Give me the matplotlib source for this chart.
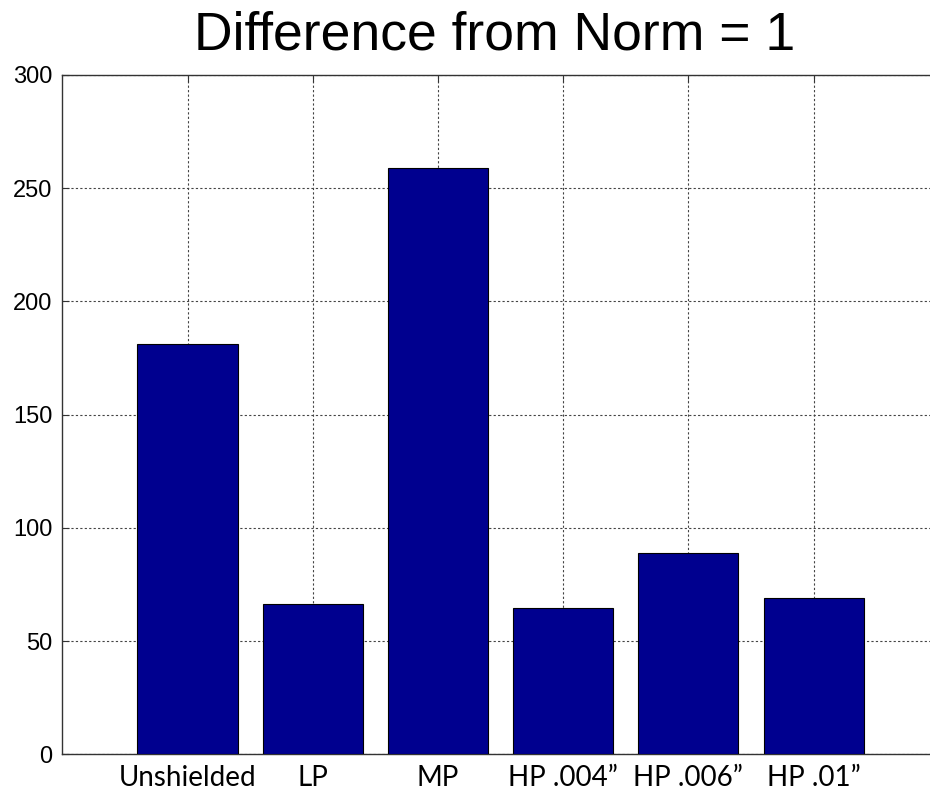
import numpy as np
import matplotlib.pyplot as plt

# values
categories = ['Unshielded', 'LP', 'MP', 'HP .004\u201d', 'HP .006\u201d', 'HP .01\u201d']
values = [181, 66.5, 259, 64.5, 89, 69]
y_ticks = [0, 50, 100, 150, 200, 250, 300]

fig = plt.figure(figsize=(9.3, 7.9), dpi=100)

# axes sticks out past the right edge, like the cropped original
ax = fig.add_axes([62.3 / 930, 1 - 754.3 / 790, 876.5 / 930, 679.5 / 790])

x = np.arange(1, len(categories) + 1)
ax.bar(x, values, width=0.8, color='#00008F', edgecolor='black', linewidth=0.8, zorder=3)

ax.set_xlim(0, 7)
ax.set_ylim(0, 300)
ax.set_xticks(x)
ax.set_xticklabels(categories)
ax.set_yticks(y_ticks)
ax.set_yticklabels([str(t) for t in y_ticks])

ax.tick_params(direction='in', length=5, width=0.8, color='#333333', top=True, right=True)
ax.tick_params(axis='y', pad=7, labelsize=17)
ax.tick_params(axis='x', pad=8, labelsize=20)
plt.setp(ax.get_xticklabels(), family=['Lato', 'DejaVu Sans'])
plt.setp(ax.get_yticklabels(), family='Liberation Sans')

ax.grid(True, color='#444444', linestyle=(0, (2, 2)), linewidth=0.8, zorder=0)
ax.set_axisbelow(True)
for s in ax.spines.values():
    s.set_color('#333333')
    s.set_linewidth(1.0)

fig.text(495 / 930, 1 - 50 / 790, 'Difference from Norm = 1', ha='center', va='baseline',
         fontsize=38.5, family='Liberation Sans')

fig.savefig('out.png', dpi=100)
